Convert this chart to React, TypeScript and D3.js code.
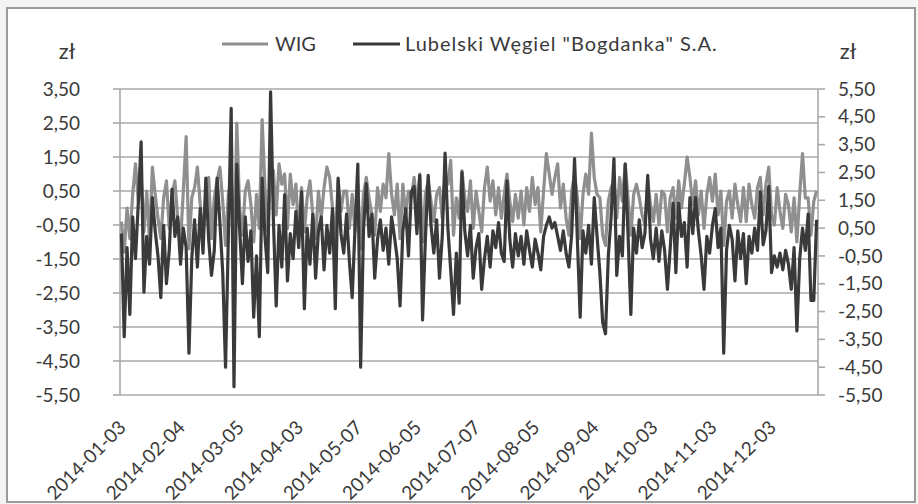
import React from "react";
import * as d3 from "d3";

// daily changes, one value per trading day
const wig = [
  -0.4, -1.3, 0.0, -0.9, 0.4, 1.3, 0.2, 0.9, -0.7, 0.5,
  -1.0, 1.2, 0.4, -0.3, -0.9, 0.3, 0.8, -0.6, 0.4, 0.8,
  -0.3, -1.0, 0.5, 2.1, -1.2, 0.3, 0.6, 1.2, 0.1, -0.8,
  0.2, 0.9, -0.9, 0.3, 0.8, 1.2, 0.2, -1.1, 0.4, 0.9,
  -1.4, 2.5, 0.0, -0.8, 0.5, 0.8, 0.1, -1.0, 0.4, -0.6,
  2.6, 0.6, -0.7, 0.9, 1.1, -0.2, 1.3, 0.7, 1.0, -0.6,
  1.0, 0.1, 0.7, -0.8, 0.6, -0.7, 0.3, 0.8, -0.2, -0.9,
  0.5, -0.3, 0.6, 1.2, 0.9, 0.0, -1.0, 0.8, -0.1, 0.5,
  0.5, -0.6, 0.4, -0.7, 0.7, -1.2, 0.4, 0.9, 0.3, -0.2,
  -0.8, 0.6, -0.1, 0.7, 0.3, 1.6, 0.4, -0.2, 0.7, -0.9,
  0.7, -0.2, 0.5, 0.3, 0.9, 0.0, 1.0, -1.0, 0.4, 0.8,
  0.2, -0.4, 0.4, 0.6, -0.3, 1.0, 0.7, 1.4, -0.8, 0.3,
  -0.3, 1.1, 0.3, -0.1, 0.8, -0.6, 0.5, -0.1, -0.7, 0.6,
  1.2, 0.2, 0.8, -0.2, 0.6, -0.3, 0.4, 1.0, 0.2, -0.4,
  0.4, -0.3, 0.5, -0.5, 0.6, -0.1, 0.9, 0.1, 0.6, -0.7,
  0.5, 1.6, 1.0, 0.4, 0.9, 1.3, 0.0, 0.7, -0.3, -0.8,
  0.5, 1.0, 0.3, -0.9, 0.4, 1.0, 0.4, 2.2, 0.9, 0.4,
  0.3, -0.8, -1.1, 0.2, 0.6, 0.8, -0.3, 0.9, 0.2, 1.3,
  0.3, -0.8, 0.4, 0.7, 0.3, -0.2, -0.5, 0.8, 0.1, -0.4,
  0.4, -0.5, 0.5, 0.4, -0.7, 0.3, 0.6, -0.3, 0.8, 0.0,
  0.7, 1.5, 0.9, 0.1, 0.8, -0.2, 0.5, -0.6, 0.4, 0.9,
  0.2, 1.0, -0.2, 0.5, -1.1, 0.2, 0.5, -0.3, 0.7, 0.1,
  -0.4, 0.6, -0.4, 0.7, 0.1, -0.3, 0.6, 0.9, -0.2, 0.7,
  1.2, -0.2, -0.5, 0.6, -0.1, -0.6, 0.4, 0.1, -0.7, 0.3,
  -1.0, 0.4, 1.6, 0.3, 0.3, -0.8, 0.2, 0.5,
];

const bogdanka = [
  0.3, -3.4, -0.2, -2.6, 0.9, -0.6, 1.4, 3.6, -1.8, 0.2, -0.8, 1.6, 0.4, -0.5, -2.0, 0.6, -1.5, -0.3, 1.9, 0.2,
  0.9, -0.8, 0.5, -0.2, -4.0, -0.6, 0.8, -0.9, 1.2, -0.4, 2.3, 0.1, -1.2, -0.3, 2.3, 0.7, -1.1, -4.5, 0.2, 4.8,
  -5.2, 2.8, 0.5, -1.5, 0.9, -0.7, 0.4, -2.7, -0.5, -3.4, 2.3, 0.2, -1.1, 5.4, 0.8, -2.3, 0.6, -0.9, 1.7, -1.4,
  0.3, -0.6, 1.1, -0.2, 1.8, -2.4, 0.5, -0.8, 1.0, -1.3, 0.4, 0.9, -1.0, 0.6, -0.4, 1.2, -2.4, 2.3, 0.3, -0.4,
  1.0, -0.7, -2.0, 0.5, 2.8, -4.5, 0.4, 2.1, 0.2, 1.0, -1.3, 0.1, 0.8, -0.3, 0.5, -0.8, 0.9, 0.2, -0.6, -2.3,
  0.4, 1.2, -0.5, 1.8, 2.0, 0.3, 2.4, -2.8, 0.1, 2.4, 0.6, -0.4, 0.8, -1.3, 0.2, 3.2, 0.5, -1.0, -2.6, -0.4,
  -2.2, 2.5, 0.4, -0.5, 0.6, -1.3, -0.2, 0.3, -1.7, -0.6, 0.2, -0.9, 0.4, -0.2, 0.7, -0.4, -0.7, 2.2, 0.1, -0.9,
  0.3, -0.5, 0.2, -0.8, 0.4, -0.3, -0.9, 0.1, -0.4, -1.0, 0.2, 0.6, 0.9, 0.5, 0.7, 0.2, -0.3, 0.4, -0.4, -0.9,
  0.3, 3.0, 0.1, -2.7, 0.4, -0.4, 0.6, -0.8, 1.6, 0.2, -1.1, -2.9, -3.3, -0.5, 0.9, 3.0, -1.2, 0.2, -0.5, 2.8,
  0.3, -2.6, 0.5, -0.4, 0.8, -0.2, 0.3, 2.4, 0.1, -0.6, 0.5, -0.7, 0.4, -0.3, -1.7, -0.2, 1.4, -1.1, 1.4, 0.2,
  0.7, -0.9, 1.6, 0.3, 1.6, 0.4, -0.5, -1.7, 0.2, -0.4, 0.6, 1.2, -0.2, 0.5, -4.0, -0.3, 0.6, 0.1, -1.4, 0.4,
  -0.6, 0.3, -1.5, 0.2, -0.4, 0.5, -0.3, 1.8, -0.1, 0.4, 2.0, -1.1, -0.5, -0.9, -0.4, -1.0, -0.3, -0.8, -1.7, -0.2,
  -3.2, -0.6, 0.5, -0.3, 1.0, -2.1, -2.1, 0.8,
];

const dateLabels = [
  "2014-01-03", "2014-02-04", "2014-03-05", "2014-04-03", "2014-05-07", "2014-06-05",
  "2014-07-07", "2014-08-05", "2014-09-04", "2014-10-03", "2014-11-03", "2014-12-03",
];
const labelEvery = 21;

const leftTicks = [3.5, 2.5, 1.5, 0.5, -0.5, -1.5, -2.5, -3.5, -4.5, -5.5];
const rightTicks = [5.5, 4.5, 3.5, 2.5, 1.5, 0.5, -0.5, -1.5, -2.5, -3.5, -4.5, -5.5];

const seriesNames = ["WIG", 'Lubelski Węgiel "Bogdanka" S.A.'];

const width = 918;
const height = 504;
const plot = { left: 120, right: 818, top: 89, bottom: 395 };

const wigColor = "#8f8f8f";
const bogColor = "#3a3a3a";
const gridColor = "#a9a9a9";
const textColor = "#3a3a3a";
const font = "Lato, 'Open Sans', sans-serif";

const fmt = (v: number) => d3.format(".2f")(v).replace(".", ",").replace("−", "-");

export default function App() {
  const x = d3
    .scaleBand<number>()
    .domain(d3.range(wig.length))
    .range([plot.left, plot.right]);
  const cx = (i: number) => (x(i) ?? 0) + x.bandwidth() / 2;

  const yLeft = d3.scaleLinear().domain([-5.5, 3.5]).range([plot.bottom, plot.top]);
  const yRight = d3.scaleLinear().domain([-5.5, 5.5]).range([plot.bottom, plot.top]);

  const wigLine = d3
    .line<number>()
    .x((_d, i) => cx(i))
    .y((d) => yLeft(d));
  const bogLine = d3
    .line<number>()
    .x((_d, i) => cx(i))
    .y((d) => yRight(d));

  return (
    <svg
      width={width}
      height={height}
      style={{ position: "absolute", left: 0, top: 0, display: "block" }}
      fontFamily={font}
    >
      <rect x={0} y={0} width={width} height={height} fill="#f4f4f4" />
      <rect x={7} y={8} width={908} height={494} fill="#ffffff" stroke="#9a9a9a" strokeWidth={2} />

      {/* gridlines */}
      {leftTicks.map((t) => (
        <line key={"g" + t} x1={plot.left} x2={plot.right} y1={yLeft(t)} y2={yLeft(t)} stroke={gridColor} strokeWidth={1.6} />
      ))}
      <line x1={plot.left} x2={plot.right} y1={yLeft(0)} y2={yLeft(0)} stroke={gridColor} strokeWidth={1.6} />

      {/* left axis */}
      <line x1={plot.left} x2={plot.left} y1={plot.top} y2={plot.bottom} stroke={gridColor} strokeWidth={1.6} />
      {leftTicks.map((t) => (
        <g key={"l" + t}>
          <line x1={plot.left - 7} x2={plot.left} y1={yLeft(t)} y2={yLeft(t)} stroke={gridColor} strokeWidth={1.6} />
          <text x={80} y={yLeft(t)} dy="0.35em" textAnchor="end" fontSize={19} fill={textColor}>
            {fmt(t)}
          </text>
        </g>
      ))}

      {/* right axis */}
      <line x1={plot.right} x2={plot.right} y1={plot.top} y2={plot.bottom} stroke={gridColor} strokeWidth={1.6} />
      {rightTicks.map((t) => (
        <g key={"r" + t}>
          <line x1={plot.right} x2={plot.right + 7} y1={yRight(t)} y2={yRight(t)} stroke={gridColor} strokeWidth={1.6} />
          <text x={838} y={yRight(t)} dy="0.35em" textAnchor="start" fontSize={19} fill={textColor}>
            {fmt(t)}
          </text>
        </g>
      ))}

      {/* series */}
      <path d={wigLine(wig) ?? ""} fill="none" stroke={wigColor} strokeWidth={3.2} strokeLinejoin="round" />
      <path d={bogLine(bogdanka) ?? ""} fill="none" stroke={bogColor} strokeWidth={3.2} strokeLinejoin="round" />

      {/* category labels */}
      {dateLabels.map((lab, k) => (
        <text
          key={lab}
          transform={`translate(${cx(k * labelEvery) + 1},424) rotate(-45)`}
          dy="0.35em"
          textAnchor="end"
          fontSize={19}
          fill={textColor}
        >
          {lab}
        </text>
      ))}

      {/* unit titles */}
      <text x={67} y={51} dy="0.35em" textAnchor="middle" fontSize={22} fill={textColor}>
        zł
      </text>
      <text x={848} y={51} dy="0.35em" textAnchor="middle" fontSize={22} fill={textColor}>
        zł
      </text>

      {/* legend */}
      <line x1={222} x2={268} y1={44} y2={44} stroke={wigColor} strokeWidth={3} />
      <text x={275} y={44} dy="0.35em" fontSize={20} fill={textColor}>
        {seriesNames[0]}
      </text>
      <line x1={353} x2={400} y1={44} y2={44} stroke={bogColor} strokeWidth={3} />
      <text x={405} y={44} dy="0.35em" fontSize={20} letterSpacing={1} fill={textColor}>
        {seriesNames[1]}
      </text>
    </svg>
  );
}
